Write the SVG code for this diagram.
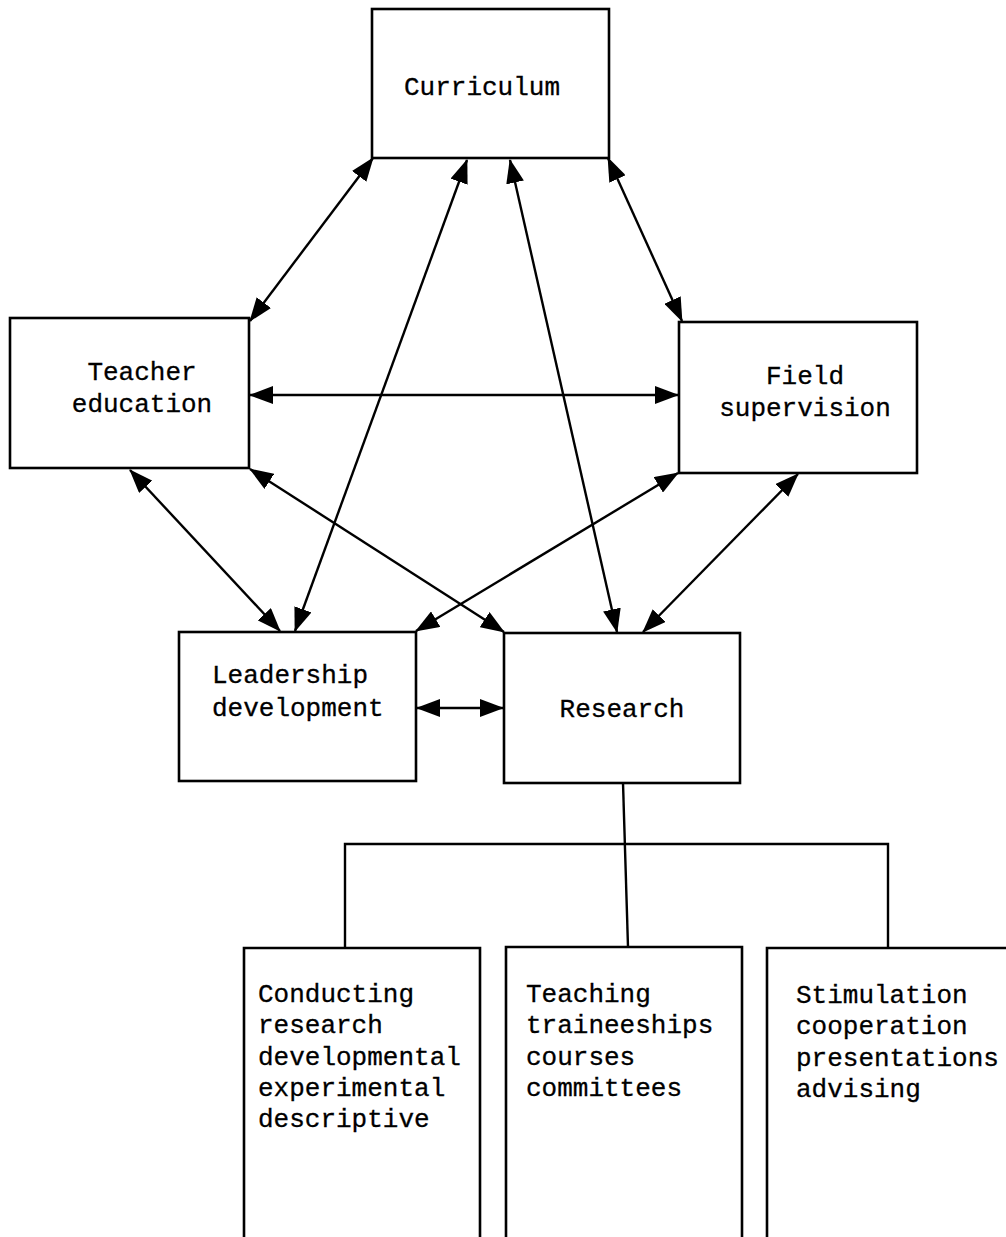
<svg xmlns="http://www.w3.org/2000/svg" width="1006" height="1237" viewBox="0 0 1006 1237">
<style>
.box{fill:none;stroke:#000;stroke-width:2.6}
.t{font-family:"Liberation Mono","Courier New",monospace;font-size:26px;fill:#000;stroke:#000;stroke-width:0.3}
.c{stroke:#000;stroke-width:2.4;fill:none}
.a{marker-start:url(#ah);marker-end:url(#ah)}
</style>
<defs>
<marker id="ah" markerUnits="userSpaceOnUse" markerWidth="24" markerHeight="18" refX="23" refY="9" orient="auto-start-reverse" viewBox="0 0 24 18">
<path d="M0,0 L24,9 L0,18 z" fill="#000"/>
</marker>
</defs>
<rect width="1006" height="1237" fill="#fff"/>
<g id="connectors">
<line class="c a" x1="373" y1="158" x2="250" y2="321"/>
<line class="c a" x1="467" y1="160" x2="295" y2="631"/>
<line class="c a" x1="510" y1="160" x2="617" y2="632"/>
<line class="c a" x1="608" y1="158" x2="682" y2="321"/>
<line class="c a" x1="250" y1="395" x2="678" y2="395"/>
<line class="c a" x1="250" y1="469" x2="504" y2="632"/>
<line class="c a" x1="130" y1="470" x2="280" y2="631"/>
<line class="c a" x1="678" y1="473" x2="416" y2="631"/>
<line class="c a" x1="798" y1="474" x2="643" y2="632"/>
<line class="c a" x1="417" y1="708" x2="503" y2="708"/>
<path class="c" d="M623,783 L628,947"/>
<path class="c" d="M345,948 V844 H888 V948"/>
</g>
<g id="curriculum">
<rect class="box" x="372" y="9" width="237" height="149"/>
<text class="t" x="482" y="95" text-anchor="middle">Curriculum</text>
</g>
<g id="teacher-education">
<rect class="box" x="10" y="318" width="239" height="150"/>
<text class="t" x="142" y="380" text-anchor="middle">Teacher</text>
<text class="t" x="142" y="412" text-anchor="middle">education</text>
</g>
<g id="field-supervision">
<rect class="box" x="679" y="322" width="238" height="151"/>
<text class="t" x="805" y="384" text-anchor="middle">Field</text>
<text class="t" x="805" y="416" text-anchor="middle">supervision</text>
</g>
<g id="leadership-development">
<rect class="box" x="179" y="632" width="237" height="149"/>
<text class="t" x="212" y="683">Leadership</text>
<text class="t" x="212" y="716">development</text>
</g>
<g id="research">
<rect class="box" x="504" y="633" width="236" height="150"/>
<text class="t" x="622" y="717" text-anchor="middle">Research</text>
</g>
<g id="conducting">
<path class="box" d="M244,1240 V948 H480 V1240"/>
<text class="t" x="258" y="1002">Conducting</text>
<text class="t" x="258" y="1033">research</text>
<text class="t" x="258" y="1065">developmental</text>
<text class="t" x="258" y="1096">experimental</text>
<text class="t" x="258" y="1127">descriptive</text>
</g>
<g id="teaching">
<path class="box" d="M506,1240 V947 H742 V1240"/>
<text class="t" x="526" y="1002">Teaching</text>
<text class="t" x="526" y="1033">traineeships</text>
<text class="t" x="526" y="1065">courses</text>
<text class="t" x="526" y="1096">committees</text>
</g>
<g id="stimulation">
<path class="box" d="M767,1240 V948 H1010"/>
<text class="t" x="796" y="1003">Stimulation</text>
<text class="t" x="796" y="1034">cooperation</text>
<text class="t" x="796" y="1066">presentations</text>
<text class="t" x="796" y="1097">advising</text>
</g>
</svg>
